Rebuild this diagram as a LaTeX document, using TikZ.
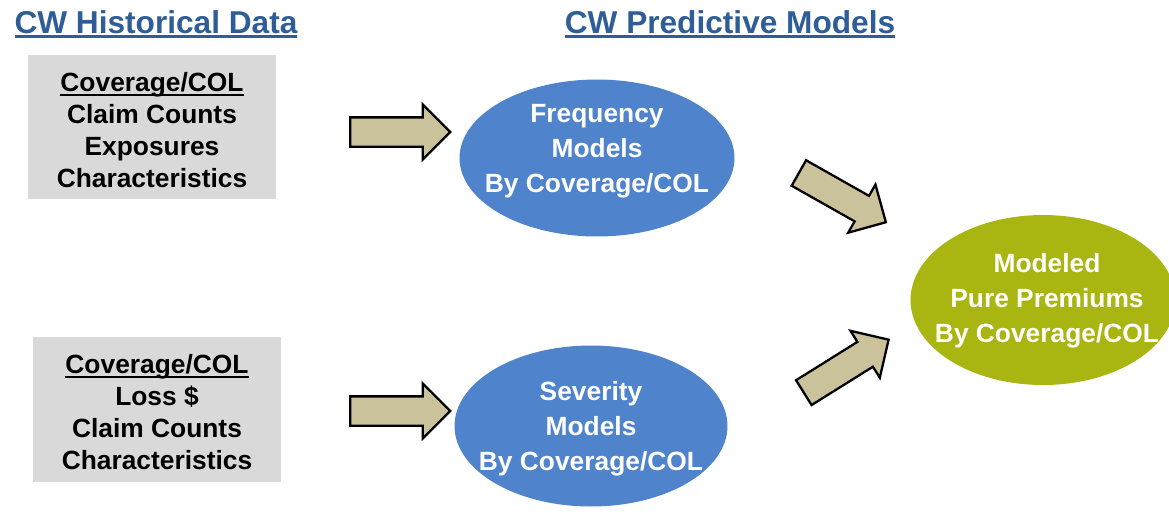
\documentclass[tikz,border=0pt]{standalone}
\usepackage{fontspec}
\setmainfont{Liberation Sans}
\usetikzlibrary{shapes.geometric, shapes.arrows}

\definecolor{titleblue}{HTML}{2F5D98}
\definecolor{boxgray}{HTML}{D9D9D9}
\definecolor{modelblue}{HTML}{4F83CC}
\definecolor{pureolive}{HTML}{A9B510}
\definecolor{arrowtan}{HTML}{C9C29B}

% underline at a fixed depth below the baseline
\newcommand{\undl}[1]{\setbox0\hbox{#1}\rlap{\vrule width \wd0 height -1.2pt depth 2.6pt}\box0}

\tikzset{
  title/.style={anchor=base, text=titleblue, font=\bfseries\fontsize{18}{22}\selectfont, inner sep=0},
  databox/.style={fill=boxgray, minimum width=4.96cm, minimum height=2.9cm},
  boxtext/.style={align=center, inner sep=0, font=\bfseries\fontsize{15}{18.1}\selectfont},
  model/.style={ellipse, fill=modelblue, inner sep=0},
  modeltext/.style={text=white, align=center, inner sep=0, font=\bfseries\fontsize{15}{19.8}\selectfont},
  blockarrow/.style={single arrow, draw=black, line width=1.3pt, fill=arrowtan,
    inner xsep=0, inner ysep=0.27cm, minimum height=2cm, single arrow head extend=0.26cm, line join=miter}
}

\begin{document}
\begin{tikzpicture}[x=0.02cm, y=-0.02cm]
\useasboundingbox (0,0) rectangle (1169,512);

% headings
\node[title](hist) at (156,33) {\undl{CW Historical Data}};
\node[title](pred) at (730,33) {\undl{CW Predictive Models}};

% data boxes
\node[databox](freqdata) at (152,127) {};
\node[boxtext] at (152,130) {\undl{Coverage/COL}\\Claim Counts\\Exposures\\Characteristics};
\node[databox](sevdata) at (157,409) {};
\node[boxtext] at (157,412) {\undl{Coverage/COL}\\Loss \$\\Claim Counts\\Characteristics};

% models
\node[model, minimum width=5.5cm, minimum height=3.14cm](freq) at (597,158) {};
\node[modeltext] at (597,151.5) {Frequency\\Models\\By Coverage/COL};
\node[model, minimum width=5.46cm, minimum height=3.22cm](sev) at (591,426) {};
\node[modeltext] at (591,428.5) {Severity\\Models\\By Coverage/COL};
\node[model, fill=pureolive, minimum width=5.3cm, minimum height=3.4cm](pure) at (1043,300) {};
\node[modeltext] at (1047,300.5) {Modeled\\Pure Premiums\\By Coverage/COL};

% arrows
\node[blockarrow](a1) at (393,132) {};
\node[blockarrow](a2) at (393,411) {};
\node[blockarrow, rotate=-29.5](a3) at (836,194) {};
\node[blockarrow, rotate=32](a4) at (840,370) {};
\end{tikzpicture}
\end{document}
